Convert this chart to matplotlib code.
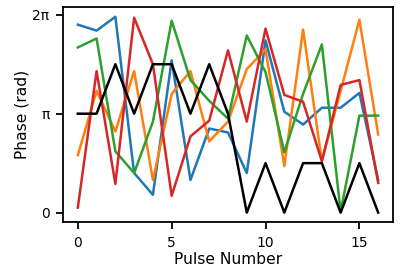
import numpy as np
import matplotlib
matplotlib.use("Agg")
import matplotlib.pyplot as plt

# phase values in units of pi, one per pulse
pulses = np.arange(17)
blue = [1.90, 1.84, 1.98, 0.40, 0.18, 1.54, 0.33, 0.85, 0.81, 0.40, 1.74, 1.02, 0.89, 1.06, 1.06, 1.21, 0.33]
orange = [0.58, 1.23, 0.82, 1.43, 0.33, 1.20, 1.43, 0.72, 0.92, 1.45, 1.65, 0.47, 1.85, 0.52, 1.23, 1.95, 0.79]
green = [1.67, 1.76, 0.62, 0.40, 0.92, 1.94, 1.34, 1.13, 0.95, 1.79, 1.42, 0.61, 1.20, 1.70, 0.01, 0.98, 0.98]
red = [0.05, 1.43, 0.29, 1.97, 1.50, 0.17, 0.77, 0.93, 1.64, 0.92, 1.86, 1.19, 1.12, 0.52, 1.29, 1.34, 0.30]
black = [1, 1, 1.5, 1, 1.5, 1.5, 1, 1.5, 1, 0, 0.5, 0, 0.5, 0.5, 0, 0.5, 0]

series = [(blue, "#1f77b4"), (orange, "#ff7f0e"), (green, "#2ca02c"),
          (red, "#d62728"), (black, "black")]

fig = plt.figure(figsize=(4, 2.78), dpi=100)
ax = fig.add_axes([0.157, 0.2, 0.826, 0.775])
for vals, col in series:
    ax.plot(pulses, np.array(vals) * np.pi, color=col, lw=1.8)

ax.set_yticks([0, np.pi, 2 * np.pi])
ax.set_yticklabels(["0", "π", "2π"])
ax.set_xticks([0, 5, 10, 15])
ax.tick_params(labelsize=10, length=5, width=1.3, pad=4.5)
for s in ax.spines.values():
    s.set_linewidth(1.3)
ax.set_xlabel("Pulse Number", fontsize=11.2, labelpad=2)
ax.set_ylabel("Phase (rad)", fontsize=11.2, labelpad=2)

fig.savefig("out.png")
